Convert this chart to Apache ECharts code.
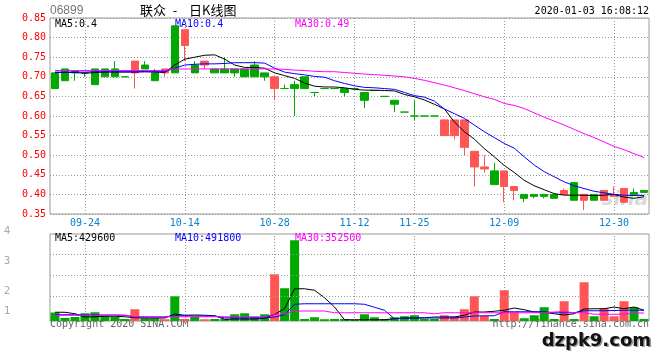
<!DOCTYPE html>
<html><head><meta charset="utf-8">
<script src="https://cdn.jsdelivr.net/npm/echarts@6/dist/echarts.min.js"></script>
<style>html,body{margin:0;padding:0;background:#fff}#c{width:660px;height:360px}</style>
</head><body><div id="c"></div>
<script>
const dates = ['09-19','09-20','09-23','09-24','09-25','09-26','09-27','09-30','10-03','10-04','10-09','10-10','10-11','10-14','10-15','10-16','10-17','10-18','10-21','10-22','10-23','10-25','10-28','10-29','10-30','10-31','11-01','11-05','11-07','11-08','11-12','11-13','11-15','11-18','11-20','11-22','11-25','11-26','11-27','11-29','12-02','12-03','12-04','12-05','12-06','12-09','12-10','12-11','12-12','12-16','12-17','12-18','12-19','12-20','12-23','12-27','12-30','12-31','01-02','01-03'];
const tickLabels = ['09-24','10-14','10-28','11-12','11-25','12-09','12-30'];
const priceTicks = [0.35,0.40,0.45,0.50,0.55,0.60,0.65,0.70,0.75,0.80,0.85];
const volGridValues = [996000, 1824000, 2652000];

const openP  = [0.67,0.69,0.71,0.71,0.68,0.70,0.70,0.70,0.74,0.72,0.69,0.72,0.71,0.82,0.71,0.74,0.71,0.71,0.71,0.70,0.70,0.70,0.70,0.67,0.67,0.67,0.66,0.67,0.67,0.66,0.67,0.64,0.665,0.65,0.63,0.61,0.60,0.60,0.60,0.59,0.59,0.59,0.51,0.47,0.425,0.46,0.42,0.39,0.395,0.395,0.39,0.41,0.385,0.40,0.385,0.41,0.40,0.415,0.40,0.405];
const closeP = [0.71,0.72,0.715,0.71,0.72,0.72,0.72,0.70,0.71,0.73,0.71,0.71,0.83,0.78,0.73,0.73,0.72,0.72,0.72,0.72,0.73,0.71,0.67,0.67,0.68,0.70,0.66,0.67,0.67,0.67,0.67,0.66,0.665,0.65,0.64,0.61,0.60,0.60,0.60,0.55,0.55,0.52,0.47,0.465,0.46,0.42,0.41,0.40,0.40,0.40,0.40,0.40,0.43,0.385,0.40,0.385,0.395,0.38,0.405,0.41];
const lowP   = [0.67,0.69,0.69,0.70,0.68,0.70,0.70,0.70,0.67,0.72,0.69,0.70,0.71,0.74,0.71,0.72,0.71,0.71,0.70,0.70,0.70,0.69,0.64,0.67,0.60,0.67,0.65,0.67,0.67,0.65,0.67,0.62,0.665,0.65,0.61,0.61,0.59,0.60,0.60,0.55,0.54,0.50,0.42,0.455,0.425,0.38,0.385,0.38,0.39,0.39,0.39,0.40,0.385,0.36,0.385,0.385,0.395,0.38,0.40,0.405];
const highP  = [0.71,0.72,0.715,0.71,0.72,0.72,0.74,0.70,0.74,0.74,0.72,0.72,0.83,0.82,0.74,0.74,0.72,0.75,0.72,0.72,0.74,0.71,0.70,0.68,0.69,0.70,0.66,0.67,0.67,0.67,0.67,0.66,0.665,0.65,0.64,0.61,0.64,0.60,0.60,0.59,0.59,0.59,0.51,0.50,0.48,0.46,0.42,0.40,0.40,0.40,0.40,0.415,0.43,0.40,0.40,0.41,0.42,0.415,0.415,0.41];

const ma5  = [0.711,0.711,0.711,0.709,0.711,0.712,0.712,0.712,0.712,0.713,0.712,0.711,0.730,0.745,0.750,0.755,0.756,0.745,0.730,0.724,0.724,0.722,0.710,0.703,0.696,0.684,0.676,0.674,0.674,0.672,0.668,0.666,0.666,0.665,0.664,0.655,0.649,0.641,0.630,0.618,0.585,0.560,0.541,0.517,0.496,0.474,0.456,0.436,0.422,0.412,0.402,0.398,0.398,0.398,0.397,0.398,0.400,0.393,0.390,0.394];
const ma10 = [0.712,0.712,0.712,0.712,0.713,0.713,0.713,0.713,0.713,0.713,0.713,0.713,0.722,0.730,0.732,0.733,0.733,0.734,0.736,0.736,0.736,0.735,0.722,0.712,0.708,0.705,0.701,0.699,0.690,0.683,0.677,0.673,0.672,0.670,0.668,0.660,0.652,0.648,0.638,0.618,0.606,0.594,0.577,0.560,0.545,0.530,0.518,0.496,0.475,0.458,0.445,0.432,0.422,0.415,0.408,0.404,0.400,0.398,0.397,0.397];
const ma30 = [0.716,0.716,0.716,0.716,0.716,0.716,0.716,0.716,0.716,0.716,0.716,0.716,0.720,0.720,0.720,0.720,0.720,0.720,0.720,0.720,0.720,0.720,0.720,0.719,0.717,0.716,0.714,0.713,0.713,0.711,0.709,0.707,0.7055,0.704,0.702,0.700,0.696,0.691,0.685,0.679,0.672,0.665,0.657,0.649,0.6425,0.632,0.627,0.619,0.608,0.597,0.587,0.577,0.566,0.555,0.545,0.534,0.5225,0.514,0.504,0.494];

const volume = [340000,120000,160000,310000,350000,200000,160000,80000,470000,110000,110000,70000,990000,80000,160000,70000,80000,80000,270000,310000,160000,270000,1870000,1310000,3230000,80000,150000,70000,80000,80000,50000,270000,150000,80000,150000,190000,230000,80000,80000,230000,190000,470000,990000,200000,80000,1230000,350000,110000,230000,550000,80000,790000,80000,1550000,190000,510000,190000,790000,550000,80000];
const vma5  = [350000,350000,290000,160000,170000,190000,190000,170000,130000,120000,120000,120000,280000,230000,240000,230000,210000,70000,80000,80000,80000,110000,270000,490000,1290000,1290000,1230000,930000,560000,50000,50000,50000,50000,50000,90000,120000,120000,130000,160000,160000,160000,230000,360000,360000,390000,430000,520000,450000,360000,350000,290000,240000,290000,480000,490000,490000,560000,490000,560000,430000];
const vma10 = [250000,250000,250000,240000,240000,240000,240000,230000,160000,160000,160000,160000,210000,210000,200000,200000,200000,130000,120000,120000,120000,120000,160000,250000,670000,690000,690000,690000,690000,690000,690000,670000,550000,430000,90000,110000,120000,120000,120000,120000,120000,160000,200000,210000,210000,370000,370000,370000,370000,370000,330000,330000,330000,410000,410000,410000,420000,430000,430000,430000];
const vma30 = [230000,230000,230000,230000,230000,230000,230000,230000,170000,170000,170000,170000,170000,170000,170000,170000,170000,170000,170000,170000,170000,170000,270000,290000,400000,400000,400000,400000,330000,330000,330000,330000,330000,330000,330000,330000,330000,330000,290000,330000,330000,330000,330000,330000,330000,330000,330000,330000,330000,330000,360000,380000,330000,330000,270000,270000,270000,270000,320000,320000];
const volAxisLabels = ['4','3','2','1'];

const GREEN = '#00a800', RED = '#ff5555';
const MONO = '"DejaVu Sans Mono", monospace';
const kData = dates.map((d, i) => [openP[i], closeP[i], lowP[i], highP[i]]);
const volData = volume.map((v, i) => ({ value: v, itemStyle: { color: closeP[i] >= openP[i] ? GREEN : RED } }));
const dots = () => ({ color: '#999', type: [1, 2] });
const isTick = (i, v) => tickLabels.indexOf(v) >= 0;

const chart = echarts.init(document.getElementById('c'));

function txt(text, x, y, color, font, align) {
  return { type: 'text', x: x, y: y, silent: true,
    style: { text: text, fill: color, font: font, textAlign: align || 'left', textVerticalAlign: 'middle' } };
}

const graphics = [
  txt('06899', 50, 11, '#777', '12px "Liberation Sans", sans-serif'),
  txt('联众', 140, 10, '#000', '13px "Noto Sans CJK SC"'),
  txt('-', 175, 10, '#000', '13px "Noto Sans CJK SC"', 'center'),
  txt('日K线图', 189, 10, '#000', '13px "Noto Sans CJK SC"'),
  txt('2020-01-03 16:08:12', 649, 11, '#000', '10px ' + MONO, 'right'),
  txt('MA5:0.4', 55, 24, '#000', '10px ' + MONO),
  txt('MA10:0.4', 175, 24, '#0000ff', '10px ' + MONO),
  txt('MA30:0.49', 295, 24, '#ff00ff', '10px ' + MONO),
  txt('MA5:429600', 55, 238.5, '#000', '10px ' + MONO),
  txt('MA10:491800', 175, 238.5, '#0000ff', '10px ' + MONO),
  txt('MA30:352500', 295, 238.5, '#ff00ff', '10px ' + MONO),
  txt('Copyright 2020 SINA.COM', 50, 324, '#666', '10px ' + MONO),
  txt('http://finance.sina.com.cn', 649, 324, '#666', '10px ' + MONO, 'right'),
  txt('sina', 648, 200, 'rgba(170,170,170,0.45)', 'italic bold 20px "DejaVu Sans", sans-serif', 'right'),
  txt('dzpk9.com', 652.5, 342.5, '#999', 'bold 18px "DejaVu Sans", sans-serif', 'right'),
  txt('dzpk9.com', 651, 341, '#111', 'bold 18px "DejaVu Sans", sans-serif', 'right')
];
const volLabelY = [231, 261, 291, 311];
volAxisLabels.forEach((t, i) => graphics.push(txt(t, 7, volLabelY[i], '#aaa', '11px ' + MONO, 'center')));

const option = {
  animation: false,
  grid: [
    { left: 50, top: 18, width: 599, height: 196, show: true, borderColor: '#999', borderWidth: 1 },
    { left: 50, top: 234, width: 599, height: 87, show: true, borderColor: '#999', borderWidth: 1 }
  ],
  xAxis: [
    { type: 'category', gridIndex: 0, data: dates, boundaryGap: true,
      axisLine: { show: false },
      axisTick: { show: true, inside: true, length: 196, alignWithLabel: true, interval: isTick, lineStyle: dots() },
      axisLabel: { interval: isTick, color: '#0a7fc8', fontFamily: 'DejaVu Sans Mono', fontSize: 10, margin: 4 } },
    { type: 'category', gridIndex: 1, data: dates, boundaryGap: true,
      axisLine: { show: false },
      axisTick: { show: true, inside: true, length: 87, alignWithLabel: true, interval: isTick, lineStyle: dots() },
      axisLabel: { show: false } }
  ],
  yAxis: [
    { type: 'value', gridIndex: 0, min: priceTicks[0], max: priceTicks[priceTicks.length - 1], interval: 0.05,
      axisLine: { show: false }, axisTick: { show: false },
      axisLabel: { color: '#ff0000', fontFamily: 'DejaVu Sans Mono', fontSize: 10, margin: 4,
        formatter: v => v.toFixed(2) },
      splitLine: { show: true, lineStyle: dots() } },
    { type: 'value', gridIndex: 1, min: 0, max: 3480000,
      axisLine: { show: false }, axisTick: { show: false }, axisLabel: { show: false }, splitLine: { show: false } }
  ],
  series: [
    { type: 'line', name: 'volgrid', xAxisIndex: 1, yAxisIndex: 1, z: 1, silent: true,
      data: dates.map(() => null), symbol: 'none', lineStyle: { width: 0 },
      markLine: { silent: true, symbol: 'none', animation: false, label: { show: false },
        lineStyle: { color: '#999', type: [1, 2], width: 1 }, emphasis: { disabled: true },
        data: volGridValues.map(v => ({ yAxis: v })) } },
    { type: 'candlestick', name: 'K', xAxisIndex: 0, yAxisIndex: 0, data: kData, barWidth: 8, z: 2,
      itemStyle: { color: GREEN, color0: RED, borderColor: GREEN, borderColor0: RED, borderColorDoji: GREEN, borderWidth: 1 } },
    { type: 'line', name: 'MA5', xAxisIndex: 0, yAxisIndex: 0, data: ma5, symbol: 'none',
      lineStyle: { color: '#000', width: 1 }, z: 3 },
    { type: 'line', name: 'MA10', xAxisIndex: 0, yAxisIndex: 0, data: ma10, symbol: 'none',
      lineStyle: { color: '#0000ff', width: 1 }, z: 3 },
    { type: 'line', name: 'MA30', xAxisIndex: 0, yAxisIndex: 0, data: ma30, symbol: 'none',
      lineStyle: { color: '#ff00ff', width: 1 }, z: 3 },
    { type: 'bar', name: 'VOL', xAxisIndex: 1, yAxisIndex: 1, data: volData, barWidth: 9, z: 2 },
    { type: 'line', name: 'VMA5', xAxisIndex: 1, yAxisIndex: 1, data: vma5, symbol: 'none',
      lineStyle: { color: '#000', width: 1 }, z: 3 },
    { type: 'line', name: 'VMA10', xAxisIndex: 1, yAxisIndex: 1, data: vma10, symbol: 'none',
      lineStyle: { color: '#0000ff', width: 1 }, z: 3 },
    { type: 'line', name: 'VMA30', xAxisIndex: 1, yAxisIndex: 1, data: vma30, symbol: 'none',
      lineStyle: { color: '#ff00ff', width: 1 }, z: 3 }
  ],
  graphic: graphics
};
chart.setOption(option);
</script>
</body></html>
